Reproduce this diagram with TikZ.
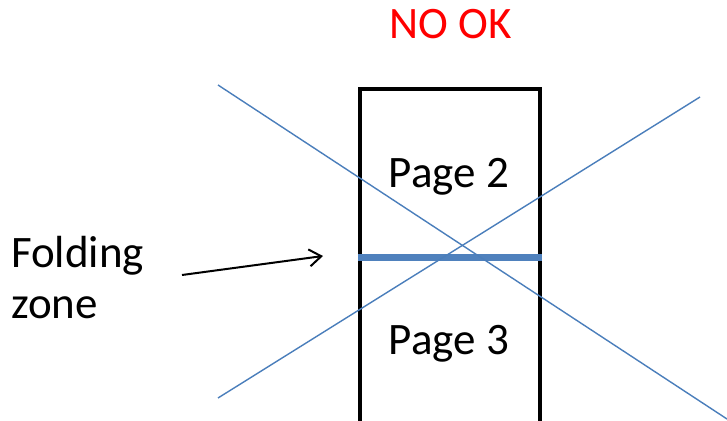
\documentclass[tikz,border=0pt]{standalone}
\usepackage{fontspec}
\setmainfont{Carlito}
\usetikzlibrary{arrows.meta}
\definecolor{crossblue}{HTML}{4A7EBB}
\definecolor{foldblue}{HTML}{4F81BD}
\definecolor{warnred}{HTML}{FF0000}
\tikzset{
  label text/.style={font=\fontsize{45}{54}\selectfont, inner sep=0pt, anchor=base},
  pagebox/.style={draw=black, line width=4.5pt},
  crossline/.style={draw=crossblue, line width=1.4pt},
  foldline/.style={draw=foldblue, line width=7pt},
  pointer/.style={draw=black, line width=2pt, -{Straight Barb[length=12pt, width=17pt, line width=2pt]}}
}
\begin{document}
\begin{tikzpicture}[x=1pt, y=-1pt]
  \useasboundingbox (0,0) rectangle (727,420);
  \fill[white] (0,0) rectangle (727,420);

  % the two pages, one above the other
  \draw[pagebox] (360,89) rectangle (540,257);
  \draw[pagebox] (360,257) rectangle (540,440);

  % fold between the pages
  \coordinate (foldL) at (358,257);
  \coordinate (foldR) at (542,257);
  \draw[foldline] (foldL) -- (foldR);

  % crossing-out lines
  \coordinate (xa1) at (218,85);
  \coordinate (xa2) at (727,419);
  \coordinate (xb1) at (218,398);
  \coordinate (xb2) at (700,97);
  \draw[crossline] (xa1) -- (xa2);
  \draw[crossline] (xb1) -- (xb2);

  % texts
  \node[label text, text=warnred] (nook) at (451,38) {NO OK};
  \node[label text] (p2) at (449,187) {Page 2};
  \node[label text] (p3) at (449,354) {Page 3};
  \node[label text, anchor=base west] (fold1) at (11,267) {Folding};
  \node[label text, anchor=base west] (fold2) at (11,318) {zone};

  % pointer to the fold
  \coordinate (arrS) at (182,275);
  \coordinate (arrE) at (323,256);
  \draw[pointer] (arrS) -- (arrE);
\end{tikzpicture}
\end{document}
